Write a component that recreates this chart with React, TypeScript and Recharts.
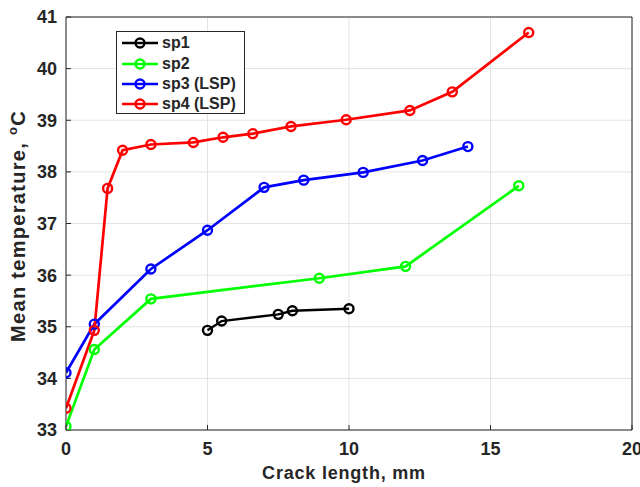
import { LineChart, Line, XAxis, YAxis, CartesianGrid, Legend, Label } from "recharts";

const FONT = '"Liberation Sans", Arial, Helvetica, sans-serif';
const INK = "#262626";

// crack length (mm) / mean temperature (°C) per specimen
const sp1X = [5, 5.5, 7.5, 8, 10];
const sp1Y = [34.93, 35.11, 35.24, 35.31, 35.35];
const sp2X = [0, 1, 3, 8.95, 12, 16];
const sp2Y = [33.07, 34.56, 35.54, 35.94, 36.17, 37.73];
const sp3X = [0, 1, 3, 5, 7, 8.4, 10.5, 12.6, 14.2];
const sp3Y = [34.11, 35.05, 36.12, 36.87, 37.7, 37.84, 37.99, 38.22, 38.49];
const sp4X = [0, 1, 1.47, 2, 3, 4.5, 5.55, 6.6, 7.95, 9.9, 12.15, 13.65, 16.35];
const sp4Y = [33.42, 34.93, 37.68, 38.42, 38.53, 38.57, 38.67, 38.74, 38.88, 39.01, 39.19, 39.55, 40.7];

const xTicks = [0, 5, 10, 15, 20];
const yTicks = [33, 34, 35, 36, 37, 38, 39, 40, 41];

const toPoints = (xs: number[], ys: number[]) => xs.map((x, i) => ({ x, y: ys[i] }));

const series = [
  { name: "sp1", color: "#000000", width: 2.4, data: toPoints(sp1X, sp1Y) },
  { name: "sp2", color: "#00ff00", width: 2.7, data: toPoints(sp2X, sp2Y) },
  { name: "sp3 (LSP)", color: "#0000ff", width: 2.7, data: toPoints(sp3X, sp3Y) },
  { name: "sp4 (LSP)", color: "#ff0000", width: 2.7, data: toPoints(sp4X, sp4Y) },
];

function LegendBox({ payload }: any) {
  return (
    <div
      style={{
        border: `1px solid ${INK}`,
        background: "#fff",
        boxSizing: "border-box",
        width: 129,
        height: 83,
        padding: "1px 0 0 4px",
      }}
    >
      {(payload || []).map((p: any) => (
        <div key={p.value} style={{ display: "flex", alignItems: "center", height: 20.4 }}>
          <svg width={38} height={20}>
            <line x1={1} x2={37} y1={10} y2={10} stroke={p.color} strokeWidth={2.7} />
            <circle cx={19} cy={10} r={4.5} fill="none" stroke={p.color} strokeWidth={2.4} />
          </svg>
          <span style={{ marginLeft: 3, fontFamily: FONT, fontWeight: "bold", fontSize: 16, color: INK }}>
            {p.value}
          </span>
        </div>
      ))}
    </div>
  );
}

function YTitle() {
  return (
    <text
      transform="translate(25, 226) rotate(-90)"
      textAnchor="middle"
      fill={INK}
      style={{ fontFamily: FONT, fontWeight: "bold", fontSize: 20, letterSpacing: 1.3 }}
    >
      Mean temperature,{" "}
      <tspan dy={-8} fontSize={13}>
        o
      </tspan>
      <tspan dy={8}>C</tspan>
    </text>
  );
}

export default function App() {
  const tickStyle = { fill: INK, fontSize: 18, fontWeight: "bold", fontFamily: FONT };
  return (
    <div style={{ position: "absolute", left: 0, top: 0, width: 640, height: 487, background: "#fff" }}>
      <LineChart width={640} height={487} margin={{ top: 16, right: 7, bottom: 0, left: 0 }}>
        <CartesianGrid stroke="#e3e3e3" />
        <XAxis
          type="number"
          dataKey="x"
          domain={[0, 20]}
          ticks={xTicks}
          interval={0}
          height={57}
          tickSize={-5}
          tickMargin={17}
          stroke={INK}
          tick={tickStyle}
          allowDataOverflow
        >
          <Label
            value="Crack length, mm"
            position="insideBottom"
            offset={8}
            dx={-5}
            style={{ fontFamily: FONT, fontWeight: "bold", fontSize: 18, letterSpacing: 0.8, fill: INK }}
          />
        </XAxis>
        <XAxis
          xAxisId="top"
          orientation="top"
          type="number"
          domain={[0, 20]}
          ticks={xTicks}
          interval={0}
          height={1}
          tickSize={-5}
          tick={false}
          stroke={INK}
        />
        <YAxis
          type="number"
          domain={[33, 41]}
          ticks={yTicks}
          interval={0}
          width={66}
          tickSize={-5}
          tickMargin={14}
          stroke={INK}
          tick={tickStyle}
          allowDataOverflow
        >
          <Label content={<YTitle />} />
        </YAxis>
        <YAxis
          yAxisId="right"
          orientation="right"
          type="number"
          domain={[33, 41]}
          ticks={yTicks}
          interval={0}
          width={1}
          tickSize={-5}
          tick={false}
          stroke={INK}
        />
        <Legend
          layout="vertical"
          align="center"
          verticalAlign="middle"
          wrapperStyle={{ left: 116, top: 31, width: 129, height: 83 }}
          content={<LegendBox />}
        />
        {series.map((s) => (
          <Line
            key={s.name}
            name={s.name}
            data={s.data}
            dataKey="y"
            type="linear"
            stroke={s.color}
            strokeWidth={s.width}
            dot={{ r: 4.5, stroke: s.color, strokeWidth: 2.4, fill: "none" }}
            activeDot={false}
            isAnimationActive={false}
          />
        ))}
      </LineChart>
    </div>
  );
}
